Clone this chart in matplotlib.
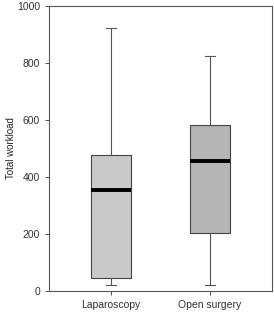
import matplotlib
matplotlib.use("Agg")
import matplotlib.pyplot as plt

plt.rcParams["font.family"] = ["Liberation Sans", "DejaVu Sans"]

categories = ["Laparoscopy", "Open surgery"]
whislo = [21, 21]
q1 = [45, 204]
med = [354, 456]
q3 = [477, 582]
whishi = [923, 825]
box_colors = ["#c9c9c9", "#b5b5b5"]

fig = plt.figure(figsize=(2.74, 3.12), dpi=100)
ax = fig.add_axes([49/274, 1-291/312, (272-49)/274, (291-6)/312])

stats = []
for i, c in enumerate(categories):
    stats.append(dict(label=c, whislo=whislo[i], q1=q1[i], med=med[i], q3=q3[i], whishi=whishi[i], fliers=[]))

bp = ax.bxp(stats, positions=[1, 2], widths=0.4, patch_artist=True, showfliers=False,
            boxprops=dict(edgecolor="#444444", linewidth=0.8),
            whiskerprops=dict(color="#555555", linewidth=0.8),
            capprops=dict(color="#555555", linewidth=0.8),
            medianprops=dict(color="black", linewidth=2.8),
            capwidths=0.1)
for patch, col in zip(bp["boxes"], box_colors):
    patch.set_facecolor(col)

ax.set_xlim(0.37, 2.63)
ax.set_ylim(0, 1000)
ax.set_yticks([0, 200, 400, 600, 800, 1000])
ax.set_ylabel("Total workload", fontsize=7, color="#222222")
ax.yaxis.set_label_coords(-0.15, 0.5)
ax.tick_params(axis="both", labelsize=7.5, length=3, width=0.6, colors="#333333", direction="out")
for s in ax.spines.values():
    s.set_color("#555555")
    s.set_linewidth(0.8)

fig.savefig("out.png", dpi=100)
